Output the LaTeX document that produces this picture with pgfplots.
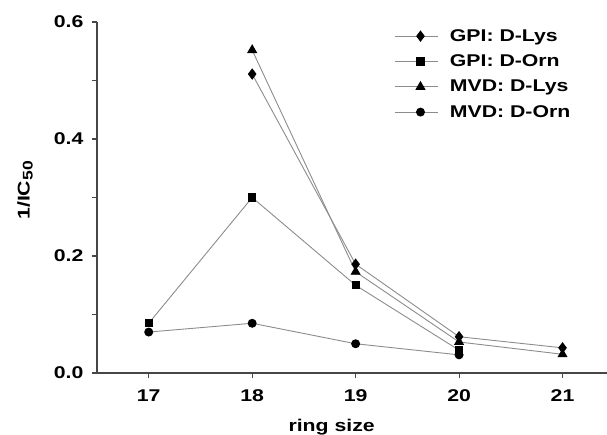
\documentclass[border=0pt]{standalone}
\usepackage{pgfplots}
\pgfplotsset{compat=1.18}
\usepackage{fontspec}
\setmainfont[FakeStretch=1.25]{Liberation Sans}

\definecolor{ln}{RGB}{140,140,140}
\definecolor{ax}{RGB}{70,70,70}

\begin{document}
\begin{tikzpicture}
\begin{axis}[
  scale only axis,
  width=510pt, height=351pt,
  xmin=16.5, xmax=21.43,
  ymin=0, ymax=0.6,
  axis lines=left,
  axis line style={-, line width=1.1pt, ax},
  x axis line style={shorten <=-5pt},
  tick style={line width=1.1pt, ax},
  tick align=outside,
  major tick length=5pt, minor tick length=5pt,
  xtick={17,18,19,20,21},
  ytick={0,0.2,0.4,0.6},
  minor ytick={0.1,0.3,0.5},
  /pgf/number format/assume math mode=true,
  yticklabel style={xshift=-5pt, /pgf/number format/fixed,
    /pgf/number format/fixed zerofill, /pgf/number format/precision=1},
  ticklabel style={font=\fontsize{17}{20}\selectfont\bfseries},
  xticklabel style={yshift=-8pt},
  xlabel={ring size},
  ylabel={1/IC\raisebox{-0.35ex}{\fontsize{14}{14}\selectfont 50}},
  label style={font=\fontsize{17}{20}\selectfont\bfseries},
  xlabel style={at={(axis description cs:0.46,-0.155)}, anchor=center},
  ylabel style={at={(axis description cs:-0.141,0.52)}, anchor=center},
  every axis plot/.append style={draw=ln, line width=0.9pt,
    mark options={draw=black, fill=black, solid}},
  legend style={at={(0.584,0.985)}, anchor=north west, draw=none, fill=none,
    font=\fontsize{17}{20}\selectfont\bfseries, row sep=8pt,
    inner sep=0pt},
  legend image code/.code={%
    \draw[mark repeat=2, mark phase=2, #1]
      plot coordinates {(0pt,0pt) (25pt,0pt) (43pt,0pt)};
    \path (52pt,0pt);},
  legend cell align=left,
]
\addplot[mark=diamond*, mark size=5pt] coordinates {
  (18,0.511) (19,0.186) (20,0.062) (21,0.043)};
\addlegendentry{GPI: D-Lys}
\addplot[mark=square*, mark size=3.6pt] coordinates {
  (17,0.085) (18,0.300) (19,0.150) (20,0.039)};
\addlegendentry{GPI: D-Orn}
\addplot[mark=triangle*, mark size=5pt] coordinates {
  (18,0.552) (19,0.173) (20,0.053) (21,0.032)};
\addlegendentry{MVD: D-Lys}
\addplot[mark=*, mark size=4pt] coordinates {
  (17,0.070) (18,0.085) (19,0.050) (20,0.031)};
\addlegendentry{MVD: D-Orn}
\end{axis}
\pgfresetboundingbox
\useasboundingbox ([shift={(-97pt,-62pt)}]current axis.south west)
  rectangle ([shift={(0pt,22pt)}]current axis.north east);
\end{tikzpicture}
\end{document}
